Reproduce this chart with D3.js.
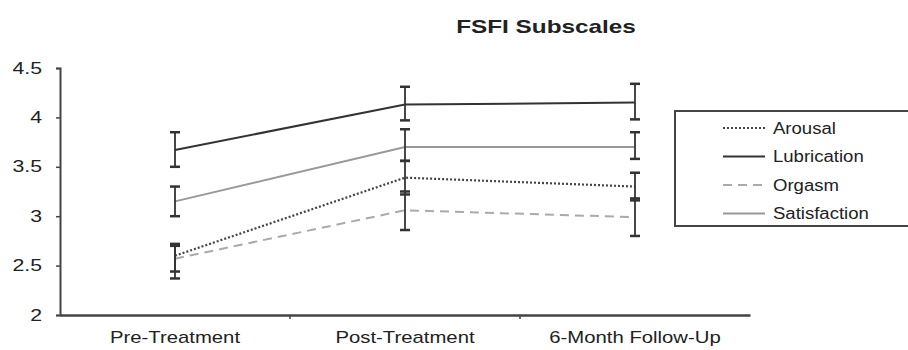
<!DOCTYPE html>
<html lang="en">
<head>
<meta charset="UTF-8">
<script src="https://d3js.org/d3.v7.min.js"></script>
<style>
  body { margin: 0; background: #fff; font-family: "Liberation Sans", Arial, sans-serif; }
  svg { display: block; }
</style>
</head>
<body>
<div id="chart"></div>
<script>
// categories and series
const timepoints = ["Pre-Treatment", "Post-Treatment", "6-Month Follow-Up"];
const seriesNames = ["Arousal", "Lubrication", "Orgasm", "Satisfaction"];
const arousal = [2.60, 3.39, 3.30];
const arousalLow = [2.44, 3.22, 3.16];
const arousalHigh = [2.72, 3.56, 3.44];
const lubrication = [3.67, 4.13, 4.15];
const lubricationLow = [3.50, 3.97, 3.98];
const lubricationHigh = [3.85, 4.31, 4.34];
const orgasm = [2.57, 3.06, 2.99];
const orgasmLow = [2.37, 2.86, 2.80];
const orgasmHigh = [2.70, 3.25, 3.18];
const satisfaction = [3.15, 3.70, 3.70];
const satisfactionLow = [3.00, 3.56, 3.58];
const satisfactionHigh = [3.30, 3.88, 3.85];
const yTicks = [2, 2.5, 3, 3.5, 4, 4.5];

const series = [
  { name: seriesNames[0], values: arousal, low: arousalLow, high: arousalHigh, color: "#444", width: 2.2, dash: "2,2" },
  { name: seriesNames[1], values: lubrication, low: lubricationLow, high: lubricationHigh, color: "#333", width: 2, dash: null },
  { name: seriesNames[2], values: orgasm, low: orgasmLow, high: orgasmHigh, color: "#aaa", width: 2, dash: "9,6" },
  { name: seriesNames[3], values: satisfaction, low: satisfactionLow, high: satisfactionHigh, color: "#999", width: 2, dash: null }
];

const W = 908, H = 350;
const margin = { top: 68, right: 158, bottom: 35, left: 60 };
const width = W - margin.left - margin.right;
const height = H - margin.top - margin.bottom;

// the source picture is stretched sideways, so widen text the same way
function stretch(sel, sx) {
  sel.each(function() {
    const t = d3.select(this);
    const x0 = +(t.attr("x") || 0);
    t.attr("x", x0 / sx).attr("transform", `scale(${sx},1)`);
  });
}

const svg = d3.select("#chart").append("svg")
  .attr("width", W).attr("height", H);

const g = svg.append("g")
  .attr("transform", `translate(${margin.left},${margin.top})`);

const x = d3.scaleBand().domain(timepoints).range([0, width]);
const y = d3.scaleLinear().domain([2, 4.5]).range([height, 0]);

// title
svg.append("g").attr("transform", "translate(546,33)")
  .append("text")
  .attr("x", 0).attr("y", 0)
  .attr("text-anchor", "middle")
  .style("font-size", "19px").style("font-weight", "bold")
  .attr("fill", "#222")
  .text("FSFI Subscales")
  .call(stretch, 1.28);

// y axis
const yAxis = g.append("g")
  .call(d3.axisLeft(y).tickValues(yTicks).tickFormat(d3.format("")).tickSize(4).tickPadding(14));
yAxis.select(".domain").attr("stroke", "#444").attr("stroke-width", 2);
yAxis.selectAll(".tick line").attr("stroke", "#444").attr("stroke-width", 1.5);
yAxis.selectAll("text").style("font-size", "16px").attr("fill", "#222")
  .style("font-family", "'Liberation Sans', Arial, sans-serif")
  .call(stretch, 1.33);

// x axis
const xAxis = g.append("g")
  .attr("transform", `translate(0,${height})`)
  .call(d3.axisBottom(x).tickSize(0).tickPadding(17));
xAxis.select(".domain").attr("stroke", "#444").attr("stroke-width", 2.5);
xAxis.selectAll("text").style("font-size", "16px").attr("fill", "#222")
  .style("font-family", "'Liberation Sans', Arial, sans-serif")
  .call(stretch, 1.27);
// small boundary ticks between categories
g.selectAll(".bound")
  .data(timepoints.slice(1))
  .enter().append("line")
  .attr("x1", d => x(d)).attr("x2", d => x(d))
  .attr("y1", height).attr("y2", height + 4)
  .attr("stroke", "#444").attr("stroke-width", 1.5);

const cx = d => x(d) + x.bandwidth() / 2;

// lines
const line = d3.line()
  .x((d, i) => cx(timepoints[i]))
  .y(d => y(d));

series.forEach(s => {
  g.append("path")
    .datum(s.values)
    .attr("fill", "none")
    .attr("stroke", s.color)
    .attr("stroke-width", s.width)
    .attr("stroke-dasharray", s.dash)
    .attr("d", line);
});

// error bars
series.forEach(s => {
  const eg = g.append("g").attr("stroke", "#333").attr("stroke-width", 1.8);
  timepoints.forEach((t, i) => {
    eg.append("line")
      .attr("x1", cx(t)).attr("x2", cx(t))
      .attr("y1", y(s.low[i])).attr("y2", y(s.high[i]));
    [s.low[i], s.high[i]].forEach(v => {
      eg.append("line")
        .attr("x1", cx(t) - 5).attr("x2", cx(t) + 5)
        .attr("y1", y(v)).attr("y2", y(v))
        .attr("stroke-width", 2.5);
    });
  });
});

// legend
const legend = svg.append("g").attr("transform", "translate(675,111)");
legend.append("rect")
  .attr("x", 0).attr("y", 0).attr("width", 240).attr("height", 115)
  .attr("fill", "#fff").attr("stroke", "#444").attr("stroke-width", 2);

const items = legend.selectAll(".item")
  .data(series)
  .enter().append("g")
  .attr("transform", (d, i) => `translate(0,${17 + i * 28.5})`);

items.append("line")
  .attr("x1", 48).attr("x2", 90)
  .attr("y1", 0).attr("y2", 0)
  .attr("stroke", d => d.color)
  .attr("stroke-width", d => d.width)
  .attr("stroke-dasharray", d => d.dash);

items.append("text")
  .attr("x", 98).attr("y", 0).attr("dy", "0.35em")
  .style("font-size", "16px").attr("fill", "#222")
  .text(d => d.name)
  .call(stretch, 1.16);
</script>
</body>
</html>
